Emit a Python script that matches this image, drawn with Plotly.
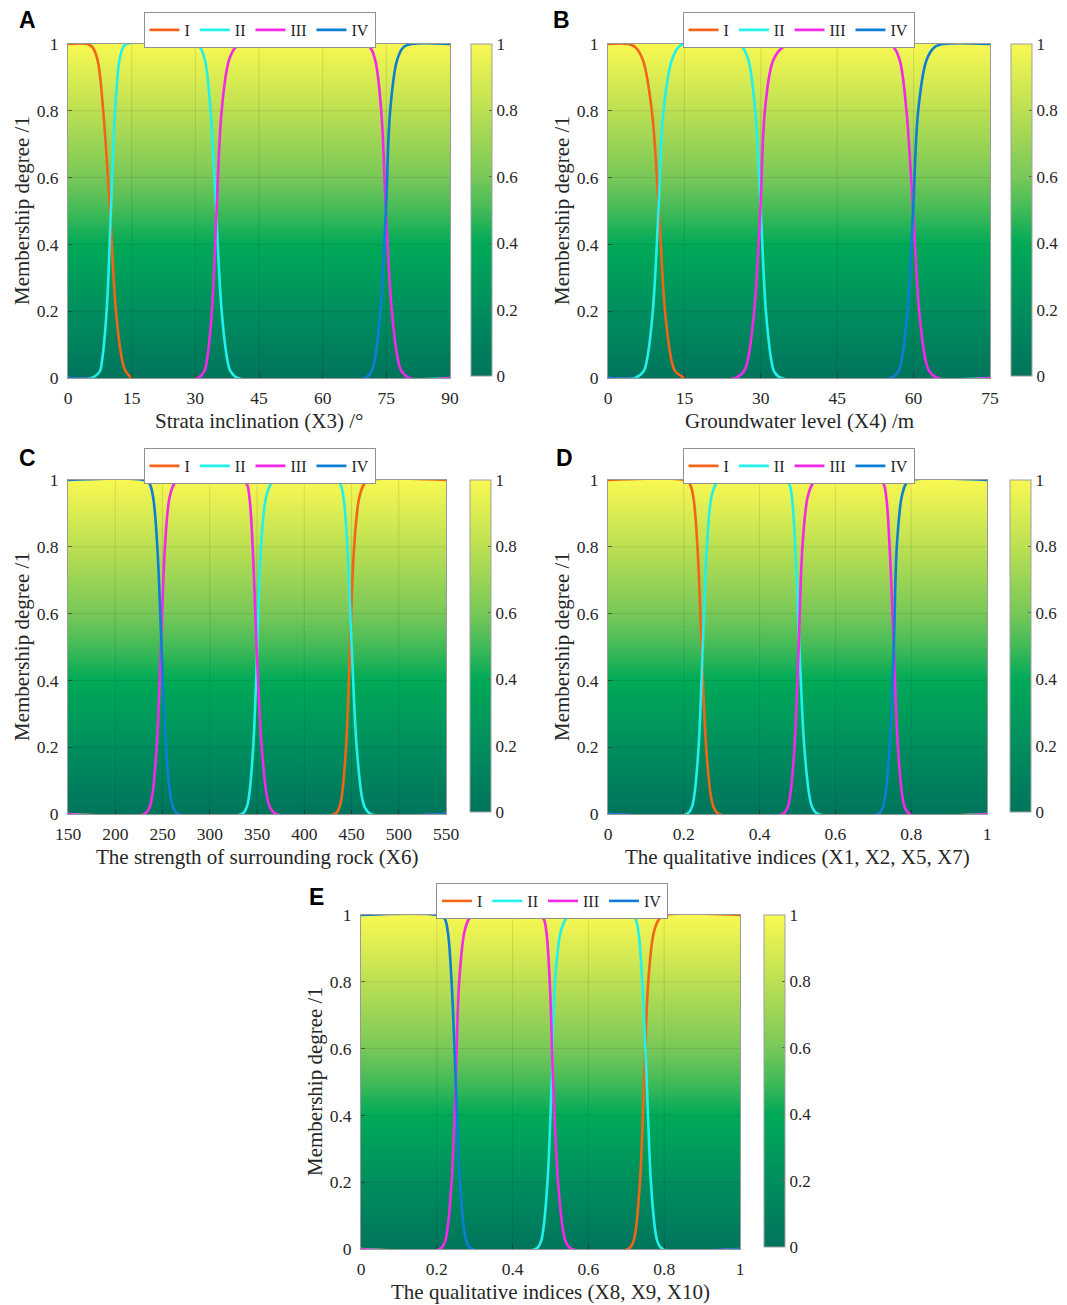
import numpy as np
import plotly.graph_objects as go

W, H = 1067, 1305

# ---------------- data ----------------
CLASSES = ["I", "II", "III", "IV"]
COLORS = {"I": "#F2641A", "II": "#22F0EC", "III": "#F428E8", "IV": "#0C7ED6"}

Y_TICKS = [0, 0.2, 0.4, 0.6, 0.8, 1]
Y_TICKTEXT = ["0", "0.2", "0.4", "0.6", "0.8", "1"]
CB_TICKS = [0, 0.2, 0.4, 0.6, 0.8, 1]

# membership levels at which the curve positions were read
RISE_FALL_Y = [0, 0, 0.02, 0.05, 0.2, 0.5, 0.8, 0.95, 0.99, 1, 1, 0.99, 0.95, 0.8, 0.5, 0.2, 0.05, 0.02, 0, 0]
RISE_Y = [0, 0, 0.02, 0.05, 0.2, 0.5, 0.8, 0.95, 0.99, 1, 1]
FALL_Y = [1, 1, 0.99, 0.95, 0.8, 0.5, 0.2, 0.05, 0.02, 0, 0]
FALL_END_Y = [1, 1, 0.99, 0.95, 0.8, 0.5, 0.2, 0.05, 0.02, 0]

# Panel A : strata inclination
A_range = [0, 90]
A_ticks = [0, 15, 30, 45, 60, 75, 90]
A_I_x = [0, 4.5, 5.8, 7.0, 8.3, 9.9, 11.3, 12.8, 13.6, 15.0]
A_I_y = FALL_END_Y
A_II_x = [0, 5.5, 7.5, 8.0, 9.1, 10.1, 11.1, 12.1, 13.0, 13.8, 29.5, 31.1, 32.3, 33.6, 34.9, 36.2, 37.6, 38.3, 40.0, 90]
A_II_y = RISE_FALL_Y
A_III_x = [0, 30.6, 32.1, 32.7, 33.9, 35.0, 36.2, 37.9, 39.5, 41.3, 68.0, 71.1, 72.4, 73.8, 74.9, 76.3, 77.8, 78.6, 80.3, 90]
A_III_y = RISE_FALL_Y
A_IV_x = [0, 70.0, 71.5, 72.2, 73.6, 74.9, 75.9, 77.5, 79.0, 81.0, 90]
A_IV_y = RISE_Y

# Panel B : groundwater level
B_range = [0, 75]
B_ticks = [0, 15, 30, 45, 60, 75]
B_I_x = [0, 4.0, 5.4, 6.9, 8.6, 10.0, 11.2, 12.5, 13.2, 15.0]
B_I_y = FALL_END_Y
B_II_x = [0, 5.3, 7.0, 7.6, 8.8, 9.9, 10.9, 12.5, 13.8, 14.8, 25.3, 26.4, 27.6, 28.9, 30.0, 31.0, 32.1, 32.6, 34.0, 75]
B_II_y = RISE_FALL_Y
B_III_x = [0, 25.0, 26.7, 27.4, 28.7, 29.9, 30.8, 32.4, 34.3, 36.4, 54.7, 56.1, 57.3, 58.6, 59.9, 61.1, 62.4, 63.1, 64.6, 75]
B_III_y = RISE_FALL_Y
B_IV_x = [0, 55.5, 57.0, 57.6, 58.8, 59.9, 60.9, 62.5, 64.1, 65.8, 75]
B_IV_y = RISE_Y

# Panel C : strength of surrounding rock
C_range = [150, 550]
C_ticks = [150, 200, 250, 300, 350, 400, 450, 500, 550]
C_I_x = [150, 432.2, 437.2, 439.6, 444.2, 448.5, 452.8, 458.4, 463.9, 469.6, 550]
C_I_y = RISE_Y
C_II_x = [150, 334.0, 339.0, 341.4, 346, 350.3, 354.2, 359.7, 365.1, 370.8, 430.8, 437.6, 441.4, 445.6, 450.2, 455.5, 461.1, 464.1, 470.3, 550]
C_II_y = RISE_FALL_Y
C_III_x = [150, 230.9, 236.3, 238.9, 243.8, 248.4, 252.6, 257.6, 262.8, 268.5, 332, 338.8, 341.9, 345.4, 349.6, 355, 360.7, 363.8, 370.1, 550]
C_III_y = RISE_FALL_Y
C_IV_x = [150, 229.7, 236, 240, 244.5, 249, 253.7, 258.7, 261.4, 266.9, 550]
C_IV_y = FALL_Y

# Panel D : qualitative indices (X1, X2, X5, X7)
D_range = [0, 1]
D_ticks = [0, 0.2, 0.4, 0.6, 0.8, 1]
D_I_x = [0, 0.200, 0.215, 0.225, 0.236, 0.247, 0.259, 0.272, 0.279, 0.293, 1]
D_I_y = FALL_Y
D_II_x = [0, 0.208, 0.221, 0.227, 0.239, 0.250, 0.261, 0.273, 0.286, 0.30, 0.459, 0.477, 0.485, 0.494, 0.505, 0.518, 0.532, 0.539, 0.554, 1]
D_II_y = RISE_FALL_Y
D_III_x = [0, 0.461, 0.474, 0.480, 0.492, 0.503, 0.513, 0.527, 0.541, 0.555, 0.705, 0.726, 0.734, 0.743, 0.754, 0.765, 0.777, 0.783, 0.796, 1]
D_III_y = RISE_FALL_Y
D_IV_x = [0, 0.712, 0.725, 0.731, 0.743, 0.754, 0.762, 0.775, 0.787, 0.80, 1]
D_IV_y = RISE_Y

# Panel E : qualitative indices (X8, X9, X10)
E_range = [0, 1]
E_ticks = [0, 0.2, 0.4, 0.6, 0.8, 1]
E_I_x = [0, 0.705, 0.718, 0.724, 0.736, 0.747, 0.758, 0.773, 0.788, 0.802, 1]
E_I_y = RISE_Y
E_II_x = [0, 0.461, 0.474, 0.480, 0.492, 0.503, 0.512, 0.527, 0.542, 0.556, 0.705, 0.723, 0.732, 0.742, 0.754, 0.765, 0.777, 0.783, 0.796, 1]
E_II_y = RISE_FALL_Y
E_III_x = [0, 0.208, 0.221, 0.227, 0.239, 0.25, 0.259, 0.273, 0.286, 0.30, 0.464, 0.481, 0.489, 0.498, 0.507, 0.52, 0.534, 0.541, 0.556, 1]
E_III_y = RISE_FALL_Y
E_IV_x = [0, 0.200, 0.220, 0.229, 0.239, 0.25, 0.261, 0.273, 0.279, 0.292, 1]
E_IV_y = FALL_Y

X_TITLES = {
    "A": "Strata inclination (X3) /°",
    "B": "Groundwater level (X4) /m",
    "C": "The strength of surrounding rock (X6)",
    "D": "The qualitative indices (X1, X2, X5, X7)",
    "E": "The qualitative indices (X8, X9, X10)",
}
Y_TITLE = "Membership degree /1"

# ---------------- layout geometry (page pixels) ----------------
PANELS = {
    "A": dict(box=(68, 450, 44, 378), cb=471, leg=(259.5, 12), letter=(27, 20)),
    "B": dict(box=(608, 990, 44, 378), cb=1011, leg=(798.5, 12), letter=(561, 20)),
    "C": dict(box=(68, 446, 480, 814), cb=470, leg=(259.5, 448), letter=(27, 458)),
    "D": dict(box=(608, 987, 480, 814), cb=1010, leg=(798.5, 448), letter=(564, 458)),
    "E": dict(box=(361, 740, 915, 1249), cb=764, leg=(552, 883), letter=(316, 897)),
}
DATA = {
    "A": (A_range, A_ticks, {"I": (A_I_x, A_I_y), "II": (A_II_x, A_II_y), "III": (A_III_x, A_III_y), "IV": (A_IV_x, A_IV_y)}),
    "B": (B_range, B_ticks, {"I": (B_I_x, B_I_y), "II": (B_II_x, B_II_y), "III": (B_III_x, B_III_y), "IV": (B_IV_x, B_IV_y)}),
    "C": (C_range, C_ticks, {"I": (C_I_x, C_I_y), "II": (C_II_x, C_II_y), "III": (C_III_x, C_III_y), "IV": (C_IV_x, C_IV_y)}),
    "D": (D_range, D_ticks, {"I": (D_I_x, D_I_y), "II": (D_II_x, D_II_y), "III": (D_III_x, D_III_y), "IV": (D_IV_x, D_IV_y)}),
    "E": (E_range, E_ticks, {"I": (E_I_x, E_I_y), "II": (E_II_x, E_II_y), "III": (E_III_x, E_III_y), "IV": (E_IV_x, E_IV_y)}),
}

COLORSCALE = [
    [0.0, "rgb(0,116,92)"],
    [0.2, "rgb(0,142,94)"],
    [0.4, "rgb(0,170,88)"],
    [0.5, "rgb(66,186,88)"],
    [0.6, "rgb(120,200,88)"],
    [0.8, "rgb(188,224,82)"],
    [1.0, "rgb(248,248,82)"],
]

SERIF = "Liberation Serif, Times New Roman, serif"
TXT = "#262626"

fig = go.Figure()
layout = dict(
    template="none",
    width=W, height=H, autosize=False,
    margin=dict(l=0, r=0, t=0, b=0, pad=0, autoexpand=False),
    paper_bgcolor="white", plot_bgcolor="white",
    showlegend=True,
    annotations=[],
)

levels = np.linspace(0, 1, 201)  # background gradient rows

for i, key in enumerate(["A", "B", "C", "D", "E"]):
    n = i + 1
    xa = "x" if n == 1 else f"x{n}"
    ya = "y" if n == 1 else f"y{n}"
    leg = "legend" if n == 1 else f"legend{n}"
    p = PANELS[key]
    x0, x1, y0, y1 = p["box"]
    xr, xt, curves = DATA[key]

    # gradient background + colorbar
    fig.add_trace(go.Heatmap(
        x=xr, y=levels, z=[[v, v] for v in levels],
        zmin=0, zmax=1, colorscale=COLORSCALE, xaxis=xa, yaxis=ya,
        hoverinfo="skip", showscale=True,
        colorbar=dict(
            x=p["cb"] / W, xanchor="left", xpad=0, xref="paper",
            y=1 - (y0 + y1 - 2) / 2 / H, yanchor="middle", ypad=0, yref="paper",
            len=(y1 - y0 - 2), lenmode="pixels",
            thickness=21, thicknessmode="pixels",
            outlinewidth=1, outlinecolor="#a0a0a0",
            tickvals=CB_TICKS, ticktext=Y_TICKTEXT,
            ticks="inside", ticklen=3, tickcolor="#606060",
            tickfont=dict(family=SERIF, size=17, color=TXT),
        ),
    ))

    # grid lines (above the gradient, below the curves)
    gx, gy = [], []
    for t in xt[1:-1]:
        gx += [t, t, None]
        gy += [0, 1, None]
    for t in Y_TICKS[1:-1]:
        gx += [xr[0], xr[1], None]
        gy += [t, t, None]
    fig.add_trace(go.Scatter(
        x=gx, y=gy, mode="lines", xaxis=xa, yaxis=ya,
        line=dict(color="rgba(0,0,0,0.10)", width=1),
        hoverinfo="skip", showlegend=False,
    ))

    for c in CLASSES:
        cx, cy = curves[c]
        fig.add_trace(go.Scatter(
            x=cx, y=cy, mode="lines", name=c, xaxis=xa, yaxis=ya,
            line=dict(color=COLORS[c], width=2.6, shape="spline", smoothing=1.0),
            legend=leg, showlegend=True,
        ))

    axis_common = dict(
        showgrid=False, zeroline=False, showline=True, mirror=True,
        linecolor="rgba(70,70,70,0.55)", linewidth=1, automargin=False,
        ticks="inside", ticklen=4, tickcolor="rgba(40,40,40,0.6)",
        tickfont=dict(family=SERIF, size=17.5, color=TXT),
    )
    layout["xaxis" if n == 1 else f"xaxis{n}"] = dict(
        axis_common, domain=[x0 / W, x1 / W], range=xr, anchor=ya,
        tickvals=xt, ticktext=[f"{t:g}" for t in xt], ticklabelstandoff=4,
    )
    layout["yaxis" if n == 1 else f"yaxis{n}"] = dict(
        axis_common, domain=[1 - y1 / H, 1 - y0 / H], range=[0, 1], anchor=xa,
        tickvals=Y_TICKS, ticktext=Y_TICKTEXT, ticklabelstandoff=5,
    )
    layout[leg] = dict(
        orientation="h", x=p["leg"][0] / W, xanchor="center",
        y=1 - p["leg"][1] / H, yanchor="top",
        bgcolor="white", bordercolor="#909090", borderwidth=1,
        font=dict(family=SERIF, size=16, color=TXT),
        itemwidth=30, tracegroupgap=0, itemclick=False, itemdoubleclick=False,
    )

    # panel letter
    layout["annotations"].append(dict(
        text=f"<b>{key}</b>", x=p["letter"][0] / W, y=1 - p["letter"][1] / H,
        xref="paper", yref="paper", xanchor="center", yanchor="middle",
        showarrow=False, font=dict(family="Liberation Sans, Arial", size=23, color="black"),
    ))
    # axis titles
    layout["annotations"].append(dict(
        text=X_TITLES[key], x=(x0 + x1) / 2 / W, y=1 - (y1 + 43) / H,
        xref="paper", yref="paper", xanchor="center", yanchor="middle",
        showarrow=False, font=dict(family=SERIF, size=21, color=TXT),
    ))
    layout["annotations"].append(dict(
        text=Y_TITLE, x=(x0 - 46) / W, y=1 - (y0 + y1) / 2 / H,
        xref="paper", yref="paper", xanchor="center", yanchor="middle",
        textangle=-90, showarrow=False, font=dict(family=SERIF, size=21, color=TXT),
    ))

fig.update_layout(**layout)
fig.write_html(
    "out.html",
    config={"displayModeBar": False},
    post_script="document.body.style.margin='0';document.body.style.overflow='hidden';",
)
